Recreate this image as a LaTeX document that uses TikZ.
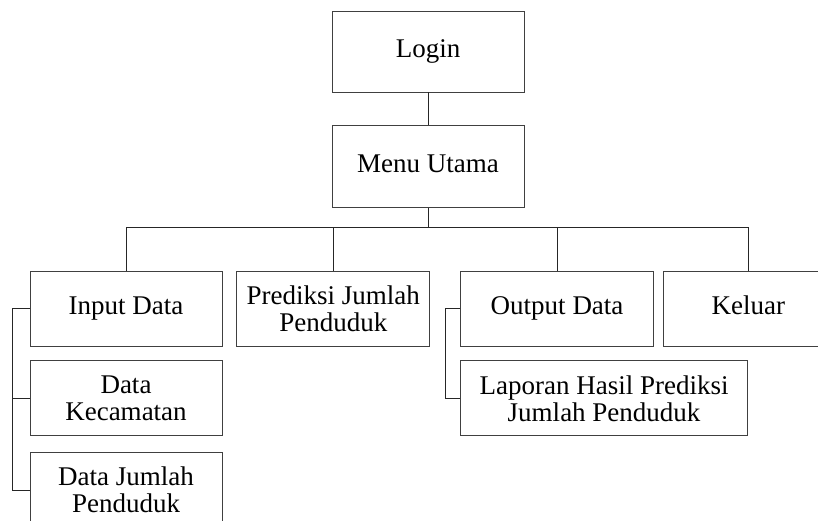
\documentclass[tikz,border=0pt]{standalone}
\usepackage{fontspec}
\setmainfont{Liberation Serif}
\usepackage{tikz}
\usetikzlibrary{positioning, calc}

\begin{document}
\begin{tikzpicture}[
    x=1pt, y=-1pt,
    node distance=15pt and 14pt,
    menu/.style={rectangle, draw=black!75, line width=0.8pt, align=center, minimum height=75pt, inner sep=2pt, font=\fontsize{27}{27}\selectfont},
    oneline/.style={menu, text height=18pt, text depth=6pt},
    link/.style={draw=black!85, line width=0.8pt}
]
\useasboundingbox (0,0) rectangle (818,520);

% Level 1: Login and main menu
\node[oneline, minimum width=192pt, minimum height=81pt] (login) at (428,51.5) {Login};
\node[oneline, minimum width=192pt, minimum height=82pt, below=33pt of login] (utama) {Menu Utama};

% Level 2: sub menus
\node[oneline, minimum width=192pt] (input) at (126,308.5) {Input Data};
\node[menu, minimum width=193pt, right=14pt of input] (prediksi) {Prediksi Jumlah\\Penduduk};
\node[oneline, minimum width=193pt, right=30pt of prediksi] (output) {Output Data};
\node[oneline, minimum width=170pt, right=9pt of output] (keluar) {Keluar};

% Level 3: data and report
\node[menu, minimum width=192pt, below=14pt of input] (kecamatan) {Data\\Kecamatan};
\node[menu, minimum width=192pt, below=16pt of kecamatan] (jumlah) {Data Jumlah\\Penduduk};
\node[menu, minimum width=287pt, below=14pt of output.south west, anchor=north west] (laporan) {Laporan Hasil Prediksi\\Jumlah Penduduk};

% Connectors
\coordinate (bus) at ($(utama.south)+(0,19)$);
\coordinate (kiri) at ($(input.west)+(-17,0)$);
\coordinate (kanan) at ($(output.west)+(-15,0)$);

\draw[link] (login) -- (utama);
\draw[link] (utama) -- (bus);
\draw[link] (input.north) |- (bus) -| (keluar.north);
\draw[link] (prediksi.north) |- (bus);
\draw[link] (output.north) |- (bus);

% Brackets to the sub items
\draw[link] (input.west) -- (kiri) |- (jumlah.west);
\draw[link] (kiri |- kecamatan.west) -- (kecamatan.west);
\draw[link] (output.west) -- (kanan) |- (laporan.west);

\end{tikzpicture}
\end{document}
